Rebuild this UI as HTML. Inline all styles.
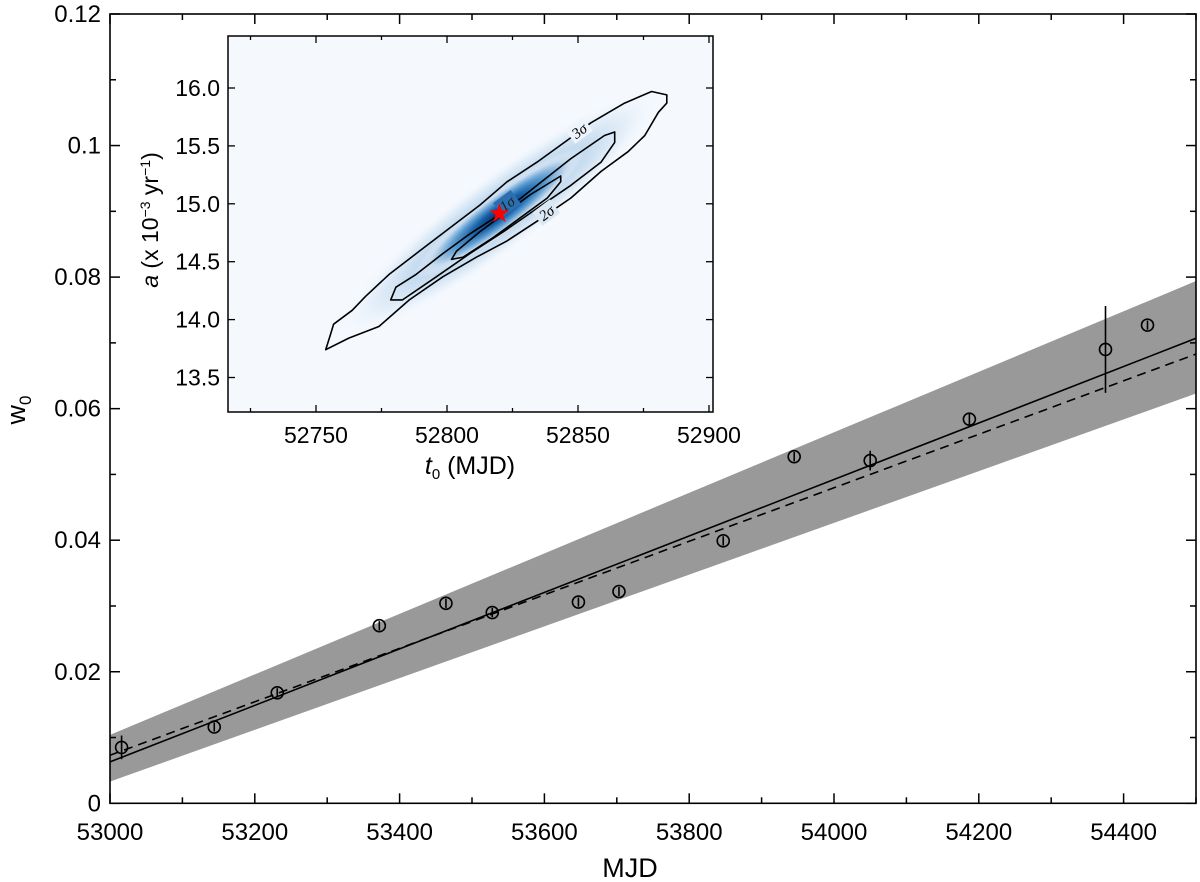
<!DOCTYPE html>
<html><head><meta charset="utf-8"><style>
html,body{margin:0;padding:0;background:#fff;}
svg{display:block;font-family:"Liberation Sans",sans-serif;}
</style></head><body>
<svg id="chart" width="1200" height="882" viewBox="0 0 1200 882">
<defs>
<radialGradient id="kde" cx="0.5" cy="0.5" r="0.5">
<stop offset="0" stop-color="#08306b"/>
<stop offset="0.3" stop-color="#1761a8"/>
<stop offset="0.55" stop-color="#5b9bd0"/>
<stop offset="0.8" stop-color="#c6dbef"/>
<stop offset="1" stop-color="#f4f8fd" stop-opacity="0"/>
</radialGradient>
<clipPath id="mainclip"><rect x="110" y="14" width="1086" height="790"/></clipPath>
</defs>
<g id="main"></g>
<g id="inset"></g>
</svg>
<script>
// ---- main chart data ----
const mjd = [53016, 53144, 53231, 53372, 53464, 53528, 53647, 53703, 53847, 53945, 54050, 54187, 54375, 54433];
const w0  = [0.0085, 0.0116, 0.0168, 0.0270, 0.0304, 0.0290, 0.0306, 0.0322, 0.0399, 0.0527, 0.0521, 0.0584, 0.0690, 0.0727];
const w0err = [0.0018, 0.0007, 0.0007, 0.0007, 0.0007, 0.0007, 0.0007, 0.0007, 0.0007, 0.0007, 0.0015, 0.0008, 0.0066, 0.0007];
const fitX = [53000, 54500];
const fitSolid = [0.0063, 0.0707];
const fitDashed = [0.0073, 0.0683];
const bandTop = [0.0104, 0.0794];
const bandBottom = [0.0033, 0.0623];
const xTicks = [53000, 53200, 53400, 53600, 53800, 54000, 54200, 54400];
const yTicks = [0, 0.02, 0.04, 0.06, 0.08, 0.1, 0.12];
const yTickLabels = ["0", "0.02", "0.04", "0.06", "0.08", "0.1", "0.12"];
// ---- inset data ----
const c3x = [52753.7,52755.4,52756.7,52763.8,52768.9,52777.9,52789.4,52801.0,52812.6,52822.9,52834.4,52846.0,52855.0,52867.8,52878.1,52883.9,52883.9,52880.7,52875.5,52869.1,52858.8,52847.3,52834.4,52822.9,52811.3,52798.4,52785.6,52774.0,52762.5];
const c3y = [13.74,13.86,13.96,14.08,14.20,14.39,14.59,14.79,14.99,15.19,15.36,15.55,15.70,15.87,15.97,15.94,15.87,15.79,15.59,15.45,15.28,15.05,14.85,14.68,14.54,14.37,14.17,13.94,13.84];
const c2x = [52778.5,52780.5,52788.2,52798.4,52808.7,52821.6,52834.4,52847.3,52860.1,52864.0,52864.0,52858.8,52847.3,52834.4,52821.6,52808.7,52795.9,52783.0];
const c2y = [14.17,14.28,14.39,14.57,14.74,14.93,15.16,15.39,15.59,15.62,15.53,15.36,15.16,14.96,14.76,14.57,14.37,14.17];
const c1x = [52801.7,52803.6,52812.6,52821.6,52831.9,52843.4,52843.4,52838.3,52828.0,52817.7,52806.2];
const c1y = [14.52,14.59,14.76,14.91,15.08,15.24,15.19,15.05,14.88,14.71,14.54];
const bestFit = [52820, 14.92];
const ixTicks = [52750, 52800, 52850, 52900];
const iyTicks = [13.5, 14.0, 14.5, 15.0, 15.5, 16.0];
const iyTickLabels = ["13.5", "14.0", "14.5", "15.0", "15.5", "16.0"];

const NS = "http://www.w3.org/2000/svg";
function mk(tag, attrs, parent, text) {
  const e = document.createElementNS(NS, tag);
  for (const k in attrs) e.setAttribute(k, attrs[k]);
  if (text !== undefined) e.textContent = text;
  parent.appendChild(e);
  return e;
}
// main axes
const X0 = 110, X1 = 1196, Y0 = 803.3, Y1 = 14;
const sx = v => X0 + (v - 53000) / 1500 * (X1 - X0);
const sy = v => Y0 - v / 0.12 * (Y0 - Y1);
const main = document.getElementById('main');
const plot = mk('g', {'clip-path': 'url(#mainclip)'}, main);


let band = mk('polygon', {points: `${sx(fitX[0])},${sy(bandTop[0])} ${sx(fitX[1])},${sy(bandTop[1])} ${sx(fitX[1])},${sy(bandBottom[1])} ${sx(fitX[0])},${sy(bandBottom[0])}`, fill: '#999999'}, plot);


let ls = mk('line', {x1: sx(fitX[0]), y1: sy(fitSolid[0]), x2: sx(fitX[1]), y2: sy(fitSolid[1]), stroke: '#000', 'stroke-width': 1.6}, plot);


let ld = mk('line', {x1: sx(fitX[0]), y1: sy(fitDashed[0]), x2: sx(fitX[1]), y2: sy(fitDashed[1]), stroke: '#000', 'stroke-width': 1.6, 'stroke-dasharray': '9,6'}, plot);


for (let i = 0; i < mjd.length; i++) {
  const g = mk('g', {}, plot);
  
  
  const x = sx(mjd[i]), y = sy(w0[i]);
  mk('line', {x1: x, x2: x, y1: sy(w0[i] + w0err[i]), y2: sy(w0[i] - w0err[i]), stroke: '#000', 'stroke-width': 1.6}, g);
  mk('circle', {cx: x, cy: y, r: 6, fill: 'none', stroke: '#000', 'stroke-width': 1.6}, g);
}
let frame = mk('rect', {x: X0, y: Y1, width: X1 - X0, height: Y0 - Y1, fill: 'none', stroke: '#000', 'stroke-width': 1.6}, main);


for (let v = 53000; v <= 54500; v += 100) {
  const x = sx(v), len = (v % 200 === 0) ? 10 : 6;
  mk('line', {x1: x, x2: x, y1: Y0, y2: Y0 - len, stroke: '#000', 'stroke-width': 1.5}, main);
  mk('line', {x1: x, x2: x, y1: Y1, y2: Y1 + len, stroke: '#000', 'stroke-width': 1.5}, main);
}
for (let k = 0; k <= 12; k++) {
  const y = sy(k * 0.01), len = (k % 2 === 0) ? 10 : 6;
  mk('line', {x1: X0, x2: X0 + len, y1: y, y2: y, stroke: '#000', 'stroke-width': 1.5}, main);
  mk('line', {x1: X1, x2: X1 - len, y1: y, y2: y, stroke: '#000', 'stroke-width': 1.5}, main);
}
xTicks.forEach(v => {
  const t = mk('text', {x: sx(v), y: 840, 'text-anchor': 'middle', 'font-size': 24}, main, String(v));
  
  
});
yTicks.forEach((v, i) => {
  const t = mk('text', {x: 101, y: sy(v) + 8, 'text-anchor': 'end', 'font-size': 24}, main, yTickLabels[i]);
  
  
});
let xt = mk('text', {x: 630, y: 877, 'text-anchor': 'middle', 'font-size': 27}, main, 'MJD');


let yt = mk('text', {transform: 'translate(25,410) rotate(-90)', 'text-anchor': 'middle', 'font-size': 27}, main);


mk('tspan', {}, yt, 'w');
mk('tspan', {dy: 6, 'font-size': 17}, yt, '0');

// inset
const IX0 = 228, IX1 = 713, IY0 = 412, IY1 = 36;
const ix = v => 316 + (v - 52750) * 2.62;
const iy = v => 88 + (16 - v) * 115.8;
const inset = document.getElementById('inset');
let ibg = mk('rect', {x: IX0, y: IY1, width: IX1 - IX0, height: IY0 - IY1, fill: '#f5f9fe'}, inset);


const cx = ix(bestFit[0]), cy = iy(bestFit[1]);
const ang = Math.atan2(iy(15.94) - iy(13.74), ix(52884) - ix(52754)) * 180 / Math.PI;
let hm1 = mk('ellipse', {cx: cx, cy: cy, rx: 200, ry: 38, fill: 'url(#kde)', opacity: 0.3, transform: `rotate(${ang} ${cx} ${cy})`}, inset);


let hm2 = mk('ellipse', {cx: cx, cy: cy, rx: 105, ry: 20, fill: 'url(#kde)', transform: `rotate(${ang} ${cx} ${cy})`}, inset);


[[c3x, c3y, 'contour-3sigma'], [c2x, c2y, 'contour-2sigma'], [c1x, c1y, 'contour-1sigma']].forEach(([xs, ys, n]) => {
  const pts = xs.map((v, i) => `${ix(v).toFixed(1)},${iy(ys[i]).toFixed(1)}`).join(' ');
  const p = mk('polygon', {points: pts, fill: 'none', stroke: '#000', 'stroke-width': 1.6, 'stroke-linejoin': 'round'}, inset);
  
  
});
[['3σ', 52850.5, 15.63], ['2σ', 52838, 14.92], ['1σ', 52823, 15.0]].forEach(([s, a, b]) => {
  const x = ix(a), y = iy(b);
  mk('rect', {x: x - 11, y: y - 9, width: 22, height: 17, fill: s === '3σ' ? '#eef4fb' : (s === '2σ' ? '#dce9f5' : '#2b6fb0'), transform: `rotate(${ang} ${x} ${y})`}, inset);
  const t = mk('text', {x: x, y: y + 5, 'text-anchor': 'middle', 'font-size': 15, 'font-family': 'Liberation Serif, serif', 'font-style': 'italic', fill: s === '1σ' ? '#222' : '#000', transform: `rotate(${ang} ${x} ${y})`}, inset, s);
  
  
});
let star = mk('text', {x: cx, y: cy + 9, 'text-anchor': 'middle', 'font-size': 26, fill: '#ff0000', 'font-family': 'DejaVu Sans, sans-serif'}, inset, '★');


let ifr = mk('rect', {x: IX0, y: IY1, width: IX1 - IX0, height: IY0 - IY1, fill: 'none', stroke: '#000', 'stroke-width': 1.5}, inset);


for (let v = 52725; v <= 52900; v += 25) {
  const x = ix(v), len = (v % 50 === 0) ? 7 : 4;
  mk('line', {x1: x, x2: x, y1: IY0, y2: IY0 - len, stroke: '#000', 'stroke-width': 1.3}, inset);
  mk('line', {x1: x, x2: x, y1: IY1, y2: IY1 + len, stroke: '#000', 'stroke-width': 1.3}, inset);
}
iyTicks.forEach(v => {
  const y = iy(v);
  mk('line', {x1: IX0, x2: IX0 + 7, y1: y, y2: y, stroke: '#000', 'stroke-width': 1.3}, inset);
  mk('line', {x1: IX1, x2: IX1 - 7, y1: y, y2: y, stroke: '#000', 'stroke-width': 1.3}, inset);
});
ixTicks.forEach(v => {
  const t = mk('text', {x: ix(v), y: 443, 'text-anchor': 'middle', 'font-size': 23}, inset, String(v));
  
  
});
iyTicks.forEach((v, i) => {
  const t = mk('text', {x: 220, y: iy(v) + 8, 'text-anchor': 'end', 'font-size': 23}, inset, iyTickLabels[i]);
  
  
});
let ixt = mk('text', {x: 470, y: 474, 'text-anchor': 'middle', 'font-size': 25}, inset);


mk('tspan', {'font-style': 'italic'}, ixt, 't');
mk('tspan', {dy: 5, 'font-size': 15}, ixt, '0');
mk('tspan', {dy: -5}, ixt, ' (MJD)');
let iyt = mk('text', {transform: 'translate(158,220) rotate(-90)', 'text-anchor': 'middle', 'font-size': 23}, inset);


mk('tspan', {'font-style': 'italic'}, iyt, 'a');
mk('tspan', {}, iyt, ' (x 10');
mk('tspan', {dy: -8, 'font-size': 14}, iyt, '−3');
mk('tspan', {dy: 8}, iyt, ' yr');
mk('tspan', {dy: -8, 'font-size': 14}, iyt, '−1');
mk('tspan', {dy: 8}, iyt, ')');
</script>
</body></html>
